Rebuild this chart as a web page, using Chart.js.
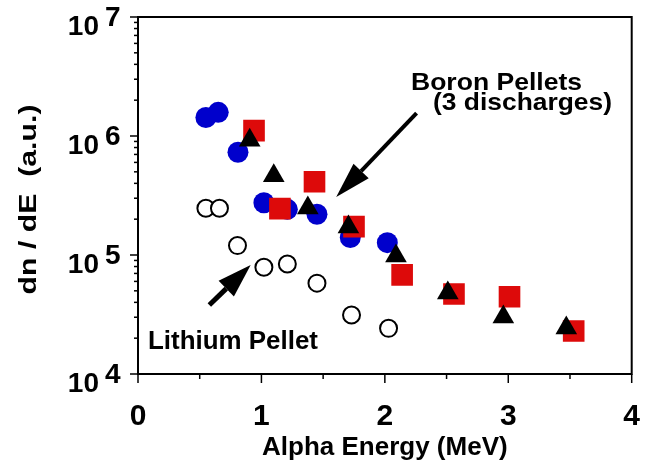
<!DOCTYPE html>
<html>
<head>
<meta charset="utf-8">
<script src="https://cdn.jsdelivr.net/npm/chart.js@4.4.0/dist/chart.umd.min.js"></script>
<style>
  html, body { margin: 0; padding: 0; background: #fff; }
  canvas { display: block; }
</style>
</head>
<body>
<canvas id="alphaChart" width="647" height="469"></canvas>
<script>
// Boron pellets (3 discharges): blue circles, red squares, black triangles
const blueE = [0.55, 0.65, 0.81, 1.02, 1.21, 1.45, 1.72, 2.02];
const blueN = [1.43e6, 1.58e6, 7.3e5, 2.75e5, 2.42e5, 2.2e5, 1.4e5, 1.27e5];
const redE = [0.94, 1.15, 1.43, 1.75, 2.14, 2.56, 3.01, 3.53];
const redN = [1.11e6, 2.45e5, 4.13e5, 1.73e5, 6.8e4, 4.7e4, 4.46e4, 2.3e4];
const triE = [0.905, 1.10, 1.376, 1.705, 2.09, 2.51, 2.96, 3.47];
const triN = [9.2e5, 4.63e5, 2.48e5, 1.72e5, 9.8e4, 4.8e4, 3.01e4, 2.44e4];
// Lithium pellet: open circles
const lithE = [0.55, 0.66, 0.806, 1.02, 1.21, 1.45, 1.73, 2.03];
const lithN = [2.47e5, 2.47e5, 1.2e5, 7.9e4, 8.4e4, 5.8e4, 3.13e4, 2.42e4];

const xTicks = [0, 1, 2, 3, 4];
const yTickExps = [4, 5, 6, 7];

const pts = (xs, ys) => xs.map((x, i) => ({ x: x, y: ys[i] }));

const FONT = "Arial, 'Liberation Sans', sans-serif";

// bold text squeezed/stretched to a given width (the original lettering is wider than Arial)
function fitText(ctx, text, x, y, width, size, align) {
  ctx.save();
  ctx.font = "bold " + size + "px " + FONT;
  const w = ctx.measureText(text).width;
  ctx.translate(x, y);
  ctx.scale(width / w, 1);
  ctx.textAlign = align || "left";
  ctx.fillText(text, 0, 0);
  ctx.restore();
}

function arrow(ctx, x1, y1, x2, y2, lw, headLen, headHalf) {
  const ang = Math.atan2(y2 - y1, x2 - x1);
  const bx = x2 - Math.cos(ang) * headLen, by = y2 - Math.sin(ang) * headLen;
  ctx.lineWidth = lw;
  ctx.beginPath();
  ctx.moveTo(x1, y1);
  ctx.lineTo(bx, by);
  ctx.stroke();
  ctx.beginPath();
  ctx.moveTo(x2, y2);
  ctx.lineTo(bx + Math.sin(ang) * headHalf, by - Math.cos(ang) * headHalf);
  ctx.lineTo(bx - Math.sin(ang) * headHalf, by + Math.cos(ang) * headHalf);
  ctx.closePath();
  ctx.fill();
}

// frame, tick marks, 10^n labels, y title, arrows and notes
const overlay = {
  id: "overlay",
  afterDraw(chart) {
    const { ctx, chartArea: a, scales: { x, y } } = chart;
    ctx.save();
    ctx.strokeStyle = "#000";
    ctx.fillStyle = "#000";

    ctx.lineWidth = 2;
    ctx.strokeRect(a.left, a.top, a.right - a.left, a.bottom - a.top);

    // x ticks (major on integers, minor on halves)
    ctx.lineWidth = 1.5;
    for (let v = 0; v <= 4; v += 0.5) {
      const px = x.getPixelForValue(v);
      const len = Number.isInteger(v) ? 9 : 5;
      ctx.beginPath();
      ctx.moveTo(px, a.bottom);
      ctx.lineTo(px, a.bottom + len);
      ctx.stroke();
    }

    // y ticks (log decades + 2..9)
    yTickExps.forEach((e) => {
      const py = y.getPixelForValue(Math.pow(10, e));
      ctx.beginPath();
      ctx.moveTo(a.left - 8, py);
      ctx.lineTo(a.left, py);
      ctx.stroke();
      if (e < 7) {
        for (let m = 2; m <= 9; m++) {
          const pm = y.getPixelForValue(m * Math.pow(10, e));
          ctx.beginPath();
          ctx.moveTo(a.left - 4, pm);
          ctx.lineTo(a.left, pm);
          ctx.stroke();
        }
      }
      ctx.font = "bold 28px " + FONT;
      ctx.textBaseline = "alphabetic";
      ctx.textAlign = "right";
      ctx.fillText("10", a.left - 39, py + 18);
      ctx.textAlign = "left";
      ctx.fillText(String(e), a.left - 33, py + 9);
    });

    // y axis title
    ctx.save();
    ctx.translate(36, (a.top + a.bottom) / 2 + 4);
    ctx.rotate(-Math.PI / 2);
    fitText(ctx, "dn / dE  (a.u.)", 0, 0, 190, 24, "center");
    ctx.restore();

    // annotations
    fitText(ctx, "Boron Pellets", 411, 90, 171, 24);
    fitText(ctx, "(3 discharges)", 433, 110, 179, 24);
    fitText(ctx, "Lithium Pellet", 148, 349, 170, 26);

    arrow(ctx, x.getPixelForValue(2.257), y.getPixelForValue(1.56e6),
      x.getPixelForValue(1.606), y.getPixelForValue(3.07e5), 4, 36, 10.5);
    arrow(ctx, x.getPixelForValue(0.578), y.getPixelForValue(3.8e4),
      x.getPixelForValue(0.913), y.getPixelForValue(8.24e4), 5, 34, 11);

    ctx.restore();
  }
};

const ctx = document.getElementById("alphaChart").getContext("2d");

new Chart(ctx, {
  type: "scatter",
  data: {
    datasets: [
      {
        label: "Boron (triangles)",
        data: pts(triE, triN),
        pointStyle: "triangle",
        pointRadius: 12.5,
        backgroundColor: "#000",
        borderWidth: 0
      },
      {
        label: "Boron (squares)",
        data: pts(redE, redN),
        pointStyle: "rect",
        pointRadius: 15.3,
        backgroundColor: "#dd0a0a",
        borderWidth: 0
      },
      {
        label: "Boron (circles)",
        data: pts(blueE, blueN),
        pointStyle: "circle",
        pointRadius: 10.5,
        backgroundColor: "#0000cc",
        borderWidth: 0
      },
      {
        label: "Lithium Pellet",
        data: pts(lithE, lithN),
        pointStyle: "circle",
        pointRadius: 8.5,
        backgroundColor: "#fff",
        borderColor: "#000",
        borderWidth: 2
      }
    ]
  },
  options: {
    responsive: false,
    animation: false,
    events: [],
    layout: { padding: { top: 17, right: 10, left: 0, bottom: 0 } },
    plugins: {
      legend: { display: false },
      tooltip: { enabled: false }
    },
    scales: {
      x: {
        type: "linear",
        min: 0,
        max: 4,
        afterFit: (s) => { s.height = 95; s.paddingLeft = 0; s.paddingRight = 0; },
        afterBuildTicks: (s) => { s.ticks = xTicks.map((v) => ({ value: v })); },
        ticks: {
          color: "#000",
          padding: 17,
          font: { family: FONT, size: 30, weight: "bold" }
        },
        grid: { display: false },
        border: { display: false },
        title: {
          display: true,
          text: "Alpha Energy (MeV)",
          color: "#000",
          padding: { top: 0, bottom: 6 },
          font: { family: FONT, size: 26, weight: "bold" }
        }
      },
      y: {
        type: "logarithmic",
        min: 1e4,
        max: 1e7,
        afterFit: (s) => { s.width = 138; },
        ticks: { display: false },
        grid: { display: false },
        border: { display: false }
      }
    }
  },
  plugins: [overlay]
});
</script>
</body>
</html>
